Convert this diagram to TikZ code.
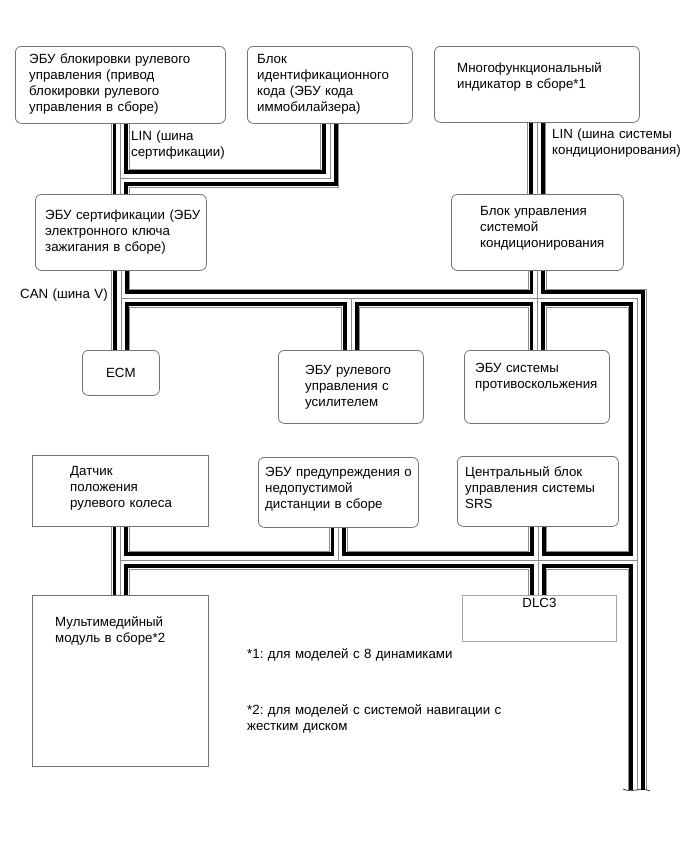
\documentclass[tikz,border=0pt]{standalone}
\usepackage{fontspec}
\setmainfont{Liberation Sans}
\frenchspacing
\usetikzlibrary{positioning}

\tikzset{
  unit/.style={draw=black!55,line width=.8pt,rounded corners=6pt,anchor=north west,inner sep=0pt,
    font=\fontsize{13.3pt}{16pt}\selectfont},
  squnit/.style={unit,rounded corners=0pt},
  txt/.style={anchor=base west,inner sep=0pt,text width=300pt,align=left,
    font=\fontsize{13.3pt}{16pt}\selectfont}
}

\begin{document}
\begin{tikzpicture}[x=1pt,y=-1pt]
\useasboundingbox (0,0) rectangle (690,855);

% control units
\node[unit,minimum width=210pt,minimum height=77pt] (lockecu) at (15,46) {};
\node[unit,minimum width=165pt,minimum height=77pt] (immo) at (247,46) {};
\node[unit,minimum width=205pt,minimum height=76pt] (mfd) at (434,46) {};
\node[unit,minimum width=171pt,minimum height=76pt] (certecu) at (35,194) {};
\node[unit,minimum width=172pt,minimum height=76pt] (acecu) at (451,194) {};
\node[unit,minimum width=77pt,minimum height=45pt] (ecm) at (82,350) {ECM};
\node[unit,minimum width=145pt,minimum height=73pt] (epsecu) at (278,350) {};
\node[unit,minimum width=145pt,minimum height=73pt] (absecu) at (464,350) {};
\node[squnit,minimum width=176pt,minimum height=71pt] (sensor) at (32,455) {};
\node[unit,minimum width=160pt,minimum height=70pt] (distecu) at (258,457) {};
\node[unit,minimum width=161pt,minimum height=70pt] (srs) at (457,456) {};
\node[squnit,minimum width=176pt,minimum height=171pt] (media) at (32,595) {};
\node[squnit,draw=black!35,minimum width=154pt,minimum height=46pt] (dlc) at (462,595) {};

% texts
\node[txt] (lockecu-t) at ([xshift=14pt,yshift=-17.5pt]lockecu.north west) {ЭБУ блокировки рулевого\\управления (привод\\блокировки рулевого\\управления в сборе)};
\node[txt] (immo-t) at ([xshift=10pt,yshift=-17.5pt]immo.north west) {Блок\\идентификационного\\кода (ЭБУ кода\\иммобилайзера)};
\node[txt] (mfd-t) at ([xshift=23pt,yshift=-26.5pt]mfd.north west) {Многофункциональный\\индикатор в сборе*1};
\node[txt] (certecu-t) at ([xshift=10pt,yshift=-25pt]certecu.north west) {ЭБУ сертификации (ЭБУ\\электронного ключа\\зажигания в сборе)};
\node[txt] (acecu-t) at ([xshift=29pt,yshift=-21pt]acecu.north west) {Блок управления\\системой\\кондиционирования};
\node[txt] (epsecu-t) at ([xshift=27pt,yshift=-24pt]epsecu.north west) {ЭБУ рулевого\\управления с\\усилителем};
\node[txt] (absecu-t) at ([xshift=11pt,yshift=-22pt]absecu.north west) {ЭБУ системы\\противоскольжения};
\node[txt] (sensor-t) at ([xshift=38pt,yshift=-20.7pt]sensor.north west) {Датчик\\положения\\рулевого колеса};
\node[txt] (distecu-t) at ([xshift=7pt,yshift=-19pt]distecu.north west) {ЭБУ предупреждения о\\недопустимой\\дистанции в сборе};
\node[txt] (srs-t) at ([xshift=8pt,yshift=-20.5pt]srs.north west) {Центральный блок\\управления системы\\SRS};
\node[txt] (media-t) at ([xshift=23pt,yshift=-31.7pt]media.north west) {Мультимедийный\\модуль в сборе*2};
\node[anchor=base,inner sep=0pt,font=\fontsize{13.3pt}{16pt}\selectfont] (dlc-t) at ([yshift=-12.3pt]dlc.north) {DLC3};

% bus labels and notes
\node[txt] (lin1) at (131,140) {LIN (шина\\сертификации)};
\node[txt] (lin2) at (552,138.5) {LIN (шина системы\\кондиционирования)};
\node[txt] (can) at (20,298.5) {CAN (шина V)};
\node[txt] (note1) at (247,658.5) {*1: для моделей с 8 динамиками};
\node[txt] (note2) at (247,714) {*2: для моделей с системой навигации с\\жестким диском};

% bus junctions
\coordinate (linjoin) at (0,178);
\coordinate (canjoin) at (0,298);
\coordinate (lowjoin) at (0,560);
\coordinate (trunktop) at (637,298);
\coordinate (trunkend) at (637,790);

% twisted pair wires, drawn layer by layer
\foreach \w/\c in {19pt/black!45,17pt/white,15.5pt/black,8pt/white,.8pt/black!45}{
  \draw[line width=\w,draw=\c]
    (lockecu.south) -- (lockecu.south |- certecu.north)
    (lockecu.south |- linjoin) -| (immo.south)
    (mfd.south) -- (mfd.south |- acecu.north)
    (certecu.south) -- (certecu.south |- ecm.north)
    (certecu.south |- canjoin) -- (trunktop) -- (trunkend)
    (acecu.south) -- (acecu.south |- absecu.north)
    (epsecu.north |- canjoin) -- (epsecu.north)
    (sensor.south) -- (sensor.south |- media.north)
    (sensor.south |- lowjoin) -- (lowjoin -| trunktop)
    (distecu.south) -- (distecu.south |- lowjoin)
    (srs.south) -- (srs.south |- dlc.north);
}
\draw[line width=.6pt] ([xshift=-14pt,yshift=1pt]trunkend) .. controls ([xshift=-6pt,yshift=-3pt]trunkend) and ([xshift=4pt,yshift=3pt]trunkend) .. ([xshift=13pt,yshift=-1pt]trunkend);
\end{tikzpicture}
\end{document}
